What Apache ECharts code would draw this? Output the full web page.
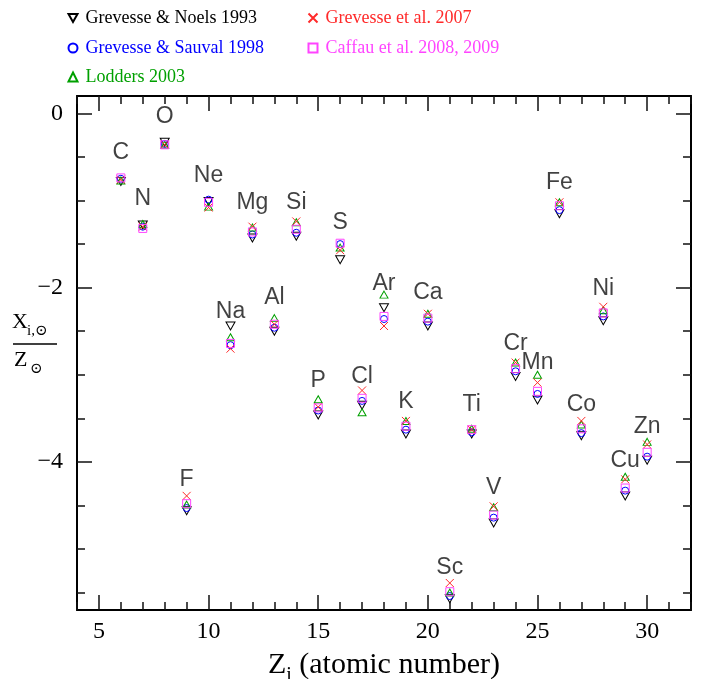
<!DOCTYPE html>
<html><head><meta charset="utf-8">
<script src="https://cdn.jsdelivr.net/npm/echarts@6/dist/echarts.min.js"></script>
<style>html,body{margin:0;padding:0;background:#fff}#c{width:718px;height:679px}</style>
</head><body><div id="c"></div>
<script>
// ---- data ----
const Z        = [6, 7, 8, 9, 10, 11, 12, 13, 14, 15, 16, 17, 18, 19, 20, 21, 22, 23, 24, 25, 26, 27, 28, 29, 30];
const elements = ['C','N','O','F','Ne','Na','Mg','Al','Si','P','S','Cl','Ar','K','Ca','Sc','Ti','V','Cr','Mn','Fe','Co','Ni','Cu','Zn'];
const gn93 = [-0.78,-1.28,-0.33,-4.56,-1.01,-2.44,-1.43,-2.50,-1.41,-3.46,-1.68,-3.35,-2.23,-3.68,-2.44,-5.57,-3.68,-4.70,-3.02,-3.29,-1.15,-3.70,-2.38,-4.39,-3.98];
const gs98 = [-0.75,-1.30,-0.35,-4.53,-0.99,-2.66,-1.39,-2.46,-1.37,-3.41,-1.50,-3.30,-2.36,-3.63,-2.39,-5.54,-3.66,-4.64,-2.96,-3.22,-1.11,-3.67,-2.33,-4.33,-3.94];
const l03  = [-0.77,-1.27,-0.36,-4.49,-1.07,-2.57,-1.31,-2.35,-1.25,-3.28,-1.54,-3.43,-2.08,-3.53,-2.30,-5.50,-3.62,-4.52,-2.86,-3.00,-1.02,-3.57,-2.26,-4.17,-3.77];
const g07  = [-0.76,-1.30,-0.36,-4.39,-1.08,-2.70,-1.30,-2.42,-1.24,-3.37,-1.57,-3.18,-2.44,-3.53,-2.30,-5.39,-3.63,-4.51,-2.86,-3.09,-1.02,-3.53,-2.22,-4.20,-3.80];
const c08  = [-0.74,-1.32,-0.36,-4.48,-1.02,-2.64,-1.36,-2.42,-1.33,-3.38,-1.49,-3.27,-2.33,-3.59,-2.35,-5.49,-3.63,-4.61,-2.93,-3.19,-1.06,-3.62,-2.29,-4.30,-3.89];
const labelY = [-0.45,-0.975,-0.04,-4.20,-0.71,-2.27,-1.03,-2.12,-1.025,-3.07,-1.255,-3.02,-1.95,-3.31,-2.06,-5.21,-3.34,-4.30,-2.645,-2.86,-0.79,-3.34,-2.01,-3.99,-3.59];
const seriesNames = ['Grevesse & Noels 1993','Grevesse & Sauval 1998','Lodders 2003','Grevesse et al. 2007','Caffau et al. 2008, 2009'];
const xMajor = [5, 10, 15, 20, 25, 30];
const xMinor = [4,5,6,7,8,9,10,11,12,13,14,15,16,17,18,19,20,21,22,23,24,25,26,27,28,29,30,31,32];
const yMajor = [-4, -2, 0];
const yMinor = [-5.5,-5,-4.5,-4,-3.5,-3,-2.5,-2,-1.5,-1,-0.5,0];

// ---- chart ----
const chart = echarts.init(document.getElementById('c'), null, {renderer: 'canvas'});
const serif = 'Liberation Serif, Times New Roman, serif';
const colors = ['#000000', '#0000ff', '#00a000', '#ff2a2a', '#ff44ff'];
const downTri = 'path://M0,0L10,0L5,9Z';
const cross = 'path://M0,0L10,10M10,0L0,10';
const symbols = [downTri, 'circle', 'triangle', cross, 'rect'];
const sizes = [[9, 8], 7, [8, 7], 8, 8];
const sets = [gn93, gs98, l03, g07, c08];

const frame = {lineStyle: {color: '#000', width: 2}, onZero: false};
function xAx(pos, ticks, len, showLine, labels) {
  return {
    type: 'value', position: pos, min: 4, max: 32,
    axisLine: Object.assign({show: showLine}, frame),
    axisTick: {show: true, inside: true, length: len, customValues: ticks, lineStyle: {color: '#111', width: 1.5}},
    axisLabel: labels ? {show: true, customValues: xMajor, margin: 10, color: '#000', fontFamily: serif, fontSize: 24} : {show: false},
    splitLine: {show: false}
  };
}
function yAx(pos, ticks, len, showLine, labels) {
  return {
    type: 'value', position: pos, min: -5.7, max: 0.2,
    axisLine: Object.assign({show: showLine}, frame),
    axisTick: {show: true, inside: true, length: len, customValues: ticks, lineStyle: {color: '#111', width: 1.5}},
    axisLabel: labels ? {show: true, customValues: yMajor, margin: 14, color: '#000', fontFamily: serif, fontSize: 24,
      formatter: v => v === 0 ? '0' : '\u2212' + Math.abs(v)} : {show: false},
    splitLine: {show: false}
  };
}

const xAxes = [xAx('bottom', xMajor, 15, true, true), xAx('bottom', xMinor, 8, false, false),
               xAx('top', xMajor, 15, true, false), xAx('top', xMinor, 8, false, false)];
xAxes[0].name = '{z|Z}{s|i}{t| (atomic number)}';
xAxes[0].nameLocation = 'middle';
xAxes[0].nameGap = 40;
xAxes[0].nameTextStyle = {
  rich: {
    z: {fontFamily: serif, fontSize: 30, color: '#000', verticalAlign: 'bottom', padding: [0, 0, 6, 0]},
    s: {fontFamily: serif, fontSize: 20, color: '#000', verticalAlign: 'bottom'},
    t: {fontFamily: serif, fontSize: 30, color: '#000', verticalAlign: 'bottom', padding: [0, 0, 6, 0]}
  }
};
const yAxes = [yAx('left', yMajor, 15, true, true), yAx('left', yMinor, 8, false, false),
               yAx('right', yMajor, 15, true, false), yAx('right', yMinor, 8, false, false)];

const series = sets.map((vals, k) => ({
  name: seriesNames[k], type: 'scatter', xAxisIndex: 0, yAxisIndex: 0,
  symbol: symbols[k], symbolSize: sizes[k],
  itemStyle: {color: 'none', borderColor: colors[k], borderWidth: 1, opacity: 1},
  emphasis: {disabled: true}, silent: true, animation: false,
  data: Z.map((z, i) => [z, vals[i]])
}));
series.push({
  name: 'labels', type: 'scatter', xAxisIndex: 0, yAxisIndex: 0, symbolSize: 1,
  itemStyle: {color: 'transparent'}, silent: true, animation: false,
  label: {show: true, position: 'inside', formatter: p => p.name, color: '#111',
          fontFamily: 'Liberation Sans, Arial, sans-serif', fontSize: 23},
  data: Z.map((z, i) => ({name: elements[i], value: [z, labelY[i]]}))
});

const legendPos = [[66, 9], [66, 39], [66, 68], [306, 9], [306, 39]];
const legends = seriesNames.map((n, k) => ({
  data: [{name: n, icon: symbols[k]}], left: legendPos[k][0], top: legendPos[k][1], padding: 0,
  itemWidth: 9, itemHeight: 9, selectedMode: false,
  formatter: nm => '{a|' + nm + '}',
  textStyle: {color: colors[k], fontFamily: serif, fontSize: 18,
    rich: {a: {color: colors[k], fontFamily: serif, fontSize: 18, padding: [0, 0, 0, 3]}}}
}));

const ylab = 'Liberation Serif, DejaVu Serif, serif';
chart.setOption({
  animation: false,
  backgroundColor: '#fff',
  grid: {left: 77, right: 27, top: 96, bottom: 69, containLabel: false, outerBoundsMode: 'none'},
  legend: legends,
  xAxis: xAxes,
  yAxis: yAxes,
  series: series,
  graphic: [
    {type: 'text', left: 12, top: 311, style: {text: 'X', font: '22px ' + ylab, fill: '#000'}},
    {type: 'text', left: 27, top: 324, style: {text: 'i,\u2299', font: '15px ' + ylab, fill: '#000'}},
    {type: 'line', shape: {x1: 13, y1: 344, x2: 57, y2: 344}, style: {stroke: '#000', lineWidth: 1.5}},
    {type: 'text', left: 14, top: 349, style: {text: 'Z', font: '22px ' + ylab, fill: '#000'}},
    {type: 'text', left: 30, top: 362, style: {text: '\u2299', font: '15px ' + ylab, fill: '#000'}}
  ]
});
</script></body></html>
